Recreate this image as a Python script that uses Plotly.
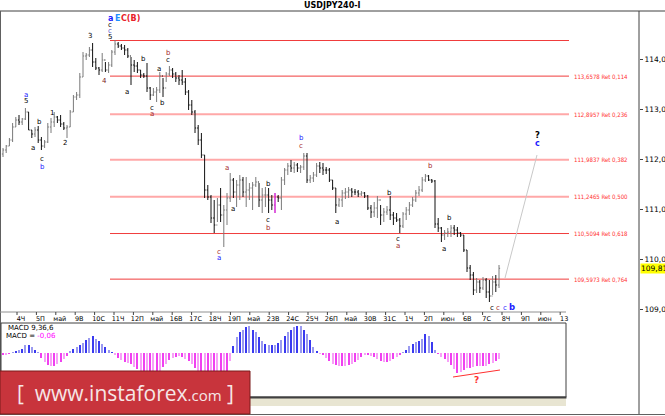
import plotly.graph_objects as go

# ---------------- DATA ----------------
highs = [112.22,112.28,112.42,112.72,112.84,112.88,112.82,113.02,112.94,112.58,
         112.64,112.66,112.44,112.38,112.72,112.82,112.94,112.86,112.88,112.74,
         112.68,112.98,113.28,113.34,113.72,114.14,114.12,114.24,114.32,114.02,
         113.84,114.12,113.94,113.94,114.18,114.38,114.34,114.30,114.28,114.22,
         114.04,113.98,113.94,113.78,113.72,113.92,113.44,113.42,113.44,113.74,
         113.62,113.74,113.86,113.82,113.74,113.68,113.78,113.62,113.38,113.18,
         112.98,112.68,112.52,112.08,111.48,111.28,111.18,111.22,111.42,111.08,
         111.32,111.72,111.62,111.58,111.68,111.64,111.64,111.52,111.54,111.64,
         111.52,111.42,111.44,111.42,111.28,111.32,111.28,111.64,111.82,111.92,
         111.98,111.94,111.92,111.88,112.12,112.12,111.68,111.74,111.92,111.94,
         111.92,111.84,111.82,111.58,111.42,111.22,111.38,111.42,111.44,111.42,
         111.40,111.38,111.36,111.34,111.28,111.08,111.14,111.26,111.08,111.02,
         111.06,111.26,110.94,110.92,110.82,110.94,111.04,111.14,111.24,111.38,
         111.46,111.64,111.70,111.68,111.60,111.58,110.82,110.64,110.58,110.62,
         110.68,110.68,110.64,110.54,110.48,110.18,109.88,109.74,109.62,109.58,
         109.64,109.62,109.58,109.66,109.68,109.88]
lows = [112.04,112.12,112.26,112.34,112.64,112.68,112.68,112.78,112.58,112.42,
        112.44,112.32,112.18,112.22,112.32,112.52,112.64,112.72,112.64,112.58,
        112.42,112.64,112.94,113.18,113.22,113.64,113.98,114.04,113.84,113.78,
        113.68,113.74,113.74,113.72,113.84,114.08,114.22,114.18,114.08,114.02,
        113.48,113.74,113.72,113.62,113.62,113.34,113.18,113.26,113.14,113.32,
        113.24,113.54,113.66,113.62,113.54,113.48,113.48,113.28,112.98,112.88,
        112.52,112.28,112.02,111.22,111.18,110.72,110.52,110.74,110.74,110.24,
        110.68,111.14,111.22,111.04,111.18,111.24,111.04,111.18,110.98,111.44,
        111.04,110.92,111.04,110.92,110.98,110.92,111.14,110.98,111.48,111.68,
        111.74,111.72,111.74,111.72,111.78,111.52,111.52,111.54,111.64,111.72,
        111.68,111.70,111.54,111.38,110.92,111.04,111.04,111.20,111.22,111.24,
        111.28,111.24,111.26,111.22,110.98,110.82,110.84,110.82,110.68,110.74,
        110.88,110.78,110.68,110.74,110.52,110.62,110.78,110.88,111.04,111.14,
        111.26,111.34,111.54,111.56,111.52,110.62,110.54,110.34,110.38,110.44,
        110.44,110.48,110.44,110.44,110.14,109.74,109.58,109.28,109.32,109.32,
        109.38,109.22,109.14,109.28,109.34,109.42]
closes = [112.18,112.26,112.38,112.64,112.78,112.74,112.80,112.94,112.58,112.50,
          112.58,112.38,112.26,112.34,112.64,112.74,112.84,112.78,112.70,112.62,
          112.64,112.94,113.24,113.28,113.64,114.06,114.08,114.18,113.94,113.82,
          113.78,113.98,113.78,113.88,114.14,114.30,114.26,114.22,114.18,114.06,
          113.88,113.86,113.78,113.68,113.66,113.42,113.28,113.34,113.38,113.66,
          113.42,113.70,113.78,113.70,113.62,113.58,113.54,113.34,113.08,112.94,
          112.62,112.38,112.08,111.38,111.24,110.82,110.68,111.08,110.88,110.98,
          111.22,111.58,111.34,111.48,111.58,111.34,111.38,111.42,111.48,111.54,
          111.18,111.28,111.28,111.18,111.08,111.24,111.22,111.58,111.78,111.86,
          111.82,111.88,111.82,111.84,112.06,111.58,111.62,111.68,111.86,111.82,
          111.78,111.78,111.58,111.42,111.08,111.18,111.32,111.34,111.38,111.34,
          111.34,111.30,111.32,111.26,111.02,110.94,111.02,111.18,110.88,110.94,
          110.98,110.88,110.82,110.78,110.66,110.90,110.98,111.08,111.18,111.32,
          111.38,111.58,111.66,111.58,111.56,110.70,110.62,110.48,110.52,110.54,
          110.62,110.58,110.52,110.48,110.18,109.82,109.68,109.38,109.54,109.42,
          109.58,109.34,109.26,109.54,109.48,109.814]
first_open = 112.10
opens = [first_open] + closes[:-1]

macd = [-0.02,-0.02,-0.01,0.005,0.02,0.035,0.045,0.08,0.085,0.06,
        0.035,0.01,-0.05,-0.09,-0.12,-0.13,-0.13,-0.11,-0.09,-0.06,
        -0.03,0.02,0.04,0.06,0.08,0.10,0.13,0.15,0.175,0.14,
        0.12,0.09,0.06,0.03,0.01,-0.02,-0.05,-0.07,-0.09,-0.10,
        -0.11,-0.14,-0.16,-0.18,-0.22,-0.25,-0.26,-0.25,-0.22,-0.18,
        -0.14,-0.11,-0.07,-0.05,-0.035,-0.03,-0.04,-0.06,-0.08,-0.11,
        -0.15,-0.20,-0.26,-0.32,-0.36,-0.38,-0.38,-0.36,-0.33,-0.24,
        -0.18,-0.08,0.07,0.16,0.21,0.23,0.26,0.27,0.23,0.21,
        0.16,0.12,0.09,0.08,0.08,0.085,0.10,0.13,0.17,0.21,
        0.23,0.26,0.275,0.275,0.23,0.19,0.13,0.06,0.02,-0.01,
        -0.02,-0.05,-0.08,-0.11,-0.12,-0.13,-0.13,-0.125,-0.12,-0.11,
        -0.09,-0.07,-0.035,-0.015,-0.015,-0.025,-0.04,-0.06,-0.075,-0.09,
        -0.09,-0.075,-0.06,-0.035,-0.015,0.01,0.035,0.075,0.09,0.11,
        0.125,0.14,0.19,0.175,0.11,0.035,-0.01,-0.035,-0.06,-0.09,
        -0.12,-0.16,-0.20,-0.19,-0.17,-0.15,-0.15,-0.14,-0.125,-0.125,
        -0.13,-0.125,-0.11,-0.10,-0.08,-0.06]

day_labels = ["4Ч","5П","май","9В","10С","11Ч","12П","май","16В","17С","18Ч","19П",
              "май","23В","24С","25Ч","26П","май","30В","31С","1Ч","2П","июн","6В",
              "7С","8Ч","9П","июн","13"]

fib_levels = [114.370, 113.6578, 112.8957, 111.9837, 111.2465, 110.5094, 109.5973]
fib_ratios = [None, "0,114", "0,236", "0,382", "0,500", "0,618", "0,764"]
fib_dotted = [False, False, True, True, True, False, False]

price_ticks = [109, 110, 111, 112, 113, 114]
last_price = 109.814
macd_params = "9,36,6"

# ---------------- LAYOUT HELPERS ----------------
W, H = 665, 416
BAR0, BARW = 3.0, 3.2          # pixel x of first bar, pixel spacing per bar
def idx(px):
    return (px - BAR0) / BARW
def PX(px):
    return px / W
def PY(py):
    return 1 - py / H

n = len(closes)
xs = list(range(n))

RED = "#F03C3C"
PINK = "#FFA8A8"
BLUE = "#2020FF"
BROWN = "#A52A2A"
BLACK = "#000000"
FONT = "DejaVu Sans"
NARROW = "Liberation Sans Narrow, DejaVu Sans Condensed, Liberation Sans"

fig = go.Figure()

fig.add_trace(go.Ohlc(
    x=xs, open=opens, high=highs, low=lows, close=closes,
    increasing=dict(line=dict(color="#7A7A7A", width=1)),
    decreasing=dict(line=dict(color="#111111", width=1)),
    tickwidth=0.35, hoverinfo="skip", xaxis="x", yaxis="y", showlegend=False))

mcol = []
for i, v in enumerate(macd):
    if v >= 0:
        mcol.append("#3A3AF0" if i % 2 == 0 else "#9A9AF0")
    else:
        mcol.append("#F040F0" if i % 2 == 0 else "#F8A0F8")
fig.add_trace(go.Bar(x=xs, y=macd, marker=dict(color=mcol, line=dict(width=0)),
                     width=0.33, hoverinfo="skip", xaxis="x2", yaxis="y2",
                     showlegend=False))

shapes = []
ann = []

# Fibonacci lines + labels
fx0, fx1 = idx(110), idx(569)
for lv, r, dotted in zip(fib_levels, fib_ratios, fib_dotted):
    shapes.append(dict(type="line", xref="x", yref="y", x0=fx0, x1=fx1, y0=lv, y1=lv,
                       line=dict(color=PINK if dotted else RED, width=2 if dotted else 1),
                       layer="below"))
    if r is not None:
        txt = f"{lv:.4f}".replace(".", ",") + " Ret " + r
        ann.append(dict(x=idx(572), y=lv, xref="x", yref="y", text=txt, showarrow=False,
                        xanchor="left", yanchor="middle",
                        font=dict(family=NARROW, size=6, color="#FF3030")))

# projection line to target
shapes.append(dict(type="line", xref="x", yref="y", x0=idx(505), y0=109.62,
                   x1=idx(537), y1=112.08, line=dict(color="#C8C8C8", width=1)))
# magenta marker line
shapes.append(dict(type="line", xref="paper", yref="paper", x0=PX(275), x1=PX(275),
                   y0=PY(193), y1=PY(213), line=dict(color="#FF00FF", width=1)))

# wave labels: (px, py, text, color, bold, size)
waves = [
    (110.5, 19, "a", BLUE, True, 8), (117, 19, "E", "#1E90FF", True, 8), (130, 19, "C(B)", "#E8202A", True, 8),
    (110, 25, "c", BLACK, False, 7), (110, 31, "c", "#5050C8", False, 7), (110, 37, "5", BLACK, False, 7),
    (90, 36, "3", BLACK, False, 7), (104, 81, "4", "#7A2020", False, 7),
    (127, 92, "a", BLACK, False, 7), (143, 59, "b", BLACK, False, 7),
    (152, 108, "c", BLACK, False, 7), (152, 114, "a", BROWN, False, 7),
    (159, 69, "a", BLACK, False, 7), (162, 103, "b", BLACK, False, 7),
    (168, 53, "b", BROWN, False, 7), (168, 60, "c", BLACK, False, 7),
    (26, 95, "a", BLUE, False, 7), (26, 101, "5", BLACK, False, 7),
    (39, 122, "b", BLACK, False, 7), (33, 148, "a", BLACK, False, 7),
    (42, 159, "c", BLACK, False, 7), (42, 167, "b", BLUE, False, 7),
    (52, 113, "1", BLACK, False, 7), (65, 143, "2", BLACK, False, 7),
    (227, 168, "a", BROWN, False, 7), (219, 252, "c", BROWN, False, 7), (219, 258, "a", BLUE, False, 7),
    (233, 209, "a", BLACK, False, 7),
    (268, 184, "b", BLACK, False, 7), (268, 220, "c", BLACK, False, 7), (268, 228, "b", BROWN, False, 7),
    (301, 138, "b", BLUE, False, 7), (301, 146, "c", BROWN, False, 7),
    (337, 222, "a", BLACK, False, 7), (389, 193, "b", BLACK, False, 7),
    (398, 239, "c", BLACK, False, 7), (398, 246, "a", BROWN, False, 7),
    (430, 166, "b", BROWN, False, 7), (449, 218, "b", BLACK, False, 7), (444, 249, "a", BLACK, False, 7),
    (492, 308, "c", BLACK, False, 7), (498, 308, "c", BROWN, False, 7), (505, 308, "c", BLUE, False, 7),
    (512, 307, "b", BLUE, True, 8.5),
    (537, 135, "?", BLACK, True, 8.5), (537, 143, "c", BLUE, True, 8),
]
for (x, y, t, c, b, s) in waves:
    ann.append(dict(x=PX(x), y=PY(y), xref="paper", yref="paper",
                    text=f"<b>{t}</b>" if b else t, showarrow=False,
                    xanchor="center", yanchor="middle",
                    font=dict(family=FONT, size=s, color=c)))

# title
ann.append(dict(x=PX(332), y=PY(5.5), xref="paper", yref="paper", text="<b>USDJPY240-I</b>",
                showarrow=False, xanchor="center", yanchor="middle",
                font=dict(family=FONT, size=8, color=BLACK)))
# current price label
ann.append(dict(x=PX(640), y=last_price, xref="paper", yref="y",
                text=f"{last_price:.3f}".replace(".", ","), showarrow=False,
                xanchor="left", yanchor="middle", bgcolor="#FFFF00", borderpad=0,
                font=dict(family=FONT, size=7.5, color=BLACK)))
# MACD labels
ann.append(dict(x=PX(6), y=PY(328), xref="paper", yref="paper", text="MACD " + macd_params,
                showarrow=False, xanchor="left", yanchor="middle",
                font=dict(family=FONT, size=7, color=BLACK)))
ann.append(dict(x=PX(4), y=PY(336), xref="paper", yref="paper",
                text="MACD = <span style='color:#FF00FF'>" + f"{macd[-1]:.2f}".replace(".", ",") + "</span>",
                showarrow=False, xanchor="left", yanchor="middle",
                font=dict(family=FONT, size=7, color=BLACK)))
# divergence line + question in MACD
shapes.append(dict(type="line", xref="x2", yref="y2", x0=idx(453), y0=-0.24, x1=idx(500), y1=-0.17,
                   line=dict(color="#FF3030", width=1)))
ann.append(dict(x=idx(476), y=-0.27, xref="x2", yref="y2", text="<b>?</b>", showarrow=False,
                font=dict(family=FONT, size=9, color="#FF3030")))

# frame lines
shapes += [
    dict(type="line", xref="paper", yref="paper", x0=0, x1=1, y0=PY(11), y1=PY(11),
         line=dict(color="#404040", width=1)),
    dict(type="line", xref="paper", yref="paper", x0=PX(0.5), x1=PX(0.5), y0=PY(11), y1=PY(415),
         line=dict(color="#606060", width=1)),
    dict(type="line", xref="paper", yref="paper", x0=PX(639), x1=PX(639), y0=PY(11), y1=PY(414),
         line=dict(color="#404040", width=1)),
    dict(type="line", xref="paper", yref="paper", x0=0, x1=1, y0=PY(414.5), y1=PY(414.5),
         line=dict(color="#606060", width=1)),
    # time strip line
    dict(type="line", xref="paper", yref="paper", x0=0, x1=PX(566), y0=PY(312), y1=PY(312),
         line=dict(color="#909090", width=1)),
    # beige strip under MACD
    dict(type="rect", xref="paper", yref="paper", x0=0, x1=PX(566), y0=PY(406), y1=PY(398),
         fillcolor="#E8E5D2", line=dict(width=0)),
    # MACD frame
    dict(type="rect", xref="paper", yref="paper", x0=PX(1), x1=PX(566), y0=PY(397), y1=PY(323),
         line=dict(color="#404040", width=1)),
    dict(type="line", xref="paper", yref="paper", x0=0, x1=PX(566.5), y0=PY(397.5), y1=PY(397.5),
         line=dict(color="#404040", width=2)),
]
# day tick marks
for k in range(len(day_labels)):
    tx = 17 + 19.4 * k
    shapes.append(dict(type="line", xref="paper", yref="paper", x0=PX(tx), x1=PX(tx),
                       y0=PY(312), y1=PY(315), line=dict(color="#404040", width=1)))

# banner
shapes.append(dict(type="rect", xref="paper", yref="paper", x0=0, x1=PX(250), y0=PY(414), y1=PY(371),
                   fillcolor="#C8343C", line=dict(color="#7A1A1A", width=1)))
ann.append(dict(x=PX(125), y=PY(393), xref="paper", yref="paper",
                text="[  www.instaforex<span style='font-size:15px'>.com</span> ]",
                showarrow=False, xanchor="center", yanchor="middle",
                font=dict(family="Open Sans", size=21, color="#F6E6E6")))

label_vals = [idx(21 + 19.4 * k) for k in range(len(day_labels))]

fig.update_layout(
    width=W, height=H, margin=dict(l=0, r=0, t=0, b=0, autoexpand=False),
    paper_bgcolor="white", plot_bgcolor="white", separators=", ",
    showlegend=False, shapes=shapes, annotations=ann, bargap=0,
    xaxis=dict(domain=[PX(1), PX(639)], range=[idx(1), idx(639)], showticklabels=False,
               showgrid=False, zeroline=False, showline=False, ticks="", automargin=False,
               rangeslider=dict(visible=False), anchor="y"),
    yaxis=dict(domain=[PY(312), PY(11)], range=[108.94, 114.96], side="right",
               tickvals=price_ticks, tickformat=".3f", ticks="outside", ticklen=3,
               tickcolor="#404040", showgrid=False, zeroline=False, showline=False,
               automargin=False,
               tickfont=dict(family=FONT, size=7.5, color=BLACK), anchor="x"),
    xaxis2=dict(domain=[PX(1), PX(566)], range=[idx(1), idx(566)], side="top",
                tickvals=label_vals, ticktext=day_labels, ticks="", showgrid=False,
                zeroline=False, showline=False, anchor="y2", automargin=False,
                tickfont=dict(family=FONT, size=6.5, color=BLACK)),
    yaxis2=dict(domain=[PY(397), PY(323)], range=[-0.44, 0.30], showticklabels=False,
                showgrid=False, zeroline=False, showline=False, ticks="", anchor="x2",
                automargin=False),
)

fig.write_html("out.html", config={"displayModeBar": False},
               post_script="document.body.style.margin='0';document.body.style.overflow='hidden';")
